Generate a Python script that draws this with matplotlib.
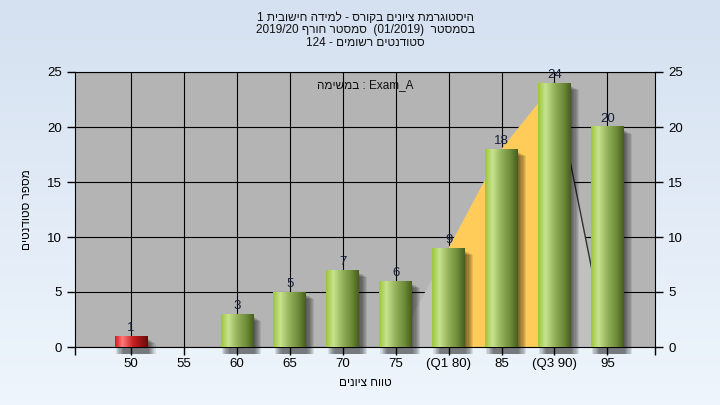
import matplotlib

matplotlib.use("Agg")
import matplotlib.pyplot as plt
import numpy as np
from matplotlib.colors import LinearSegmentedColormap
from matplotlib.patches import Polygon, Rectangle

# grade bins and number of students in each
categories = ["50", "55", "60", "65", "70", "75", "(Q1 80)", "85", "(Q3 90)", "95"]
counts = [1, 0, 3, 5, 7, 6, 9, 18, 24, 20]
fail_bins = ["50"]

# distribution curve drawn behind the bars (bin index, value)
curve_idx = [5, 6, 7, 8, 9]
curve_vals = [0, 9, 18, 24, 0]
q1_idx, q3_idx = 6, 8

y_ticks = [0, 5, 10, 15, 20, 25]


def rtl(s):
    # matplotlib has no bidi support, so Hebrew runs are written in visual order
    return s[::-1]


title_lines = [
    "1 " + rtl("היסטוגרמת ציונים בקורס - למידה חישובית"),
    "2019/20 " + rtl("סמסטר חורף") + "  (01/2019)  " + rtl("בסמסטר"),
    "124 - " + rtl("סטודנטים רשומים"),
]
task_label = rtl("במשימה") + " : Exam_A"
x_label = rtl("טווח ציונים")
y_label = rtl("מספר סטודנטים")

plt.rcParams["font.family"] = ["Liberation Sans", "DejaVu Sans"]

GREEN = LinearSegmentedColormap.from_list(
    "g", [(0, "#9cc63a"), (0.22, "#c9e38f"), (0.5, "#93b25a"), (0.8, "#6a8836"), (1, "#485d1f")])
RED = LinearSegmentedColormap.from_list(
    "r", [(0, "#d81a1a"), (0.22, "#ff7a7a"), (0.55, "#c82020"), (1, "#6a0808")])

fig = plt.figure(figsize=(7.2, 4.05), dpi=100)

# light blue gradient background
bg = fig.add_axes([0, 0, 1, 1], zorder=-10)
bg_cmap = LinearSegmentedColormap.from_list("bg", ["#eef5fc", "#d5e1f1"])
bg.imshow(np.linspace(0, 1, 100)[:, None], cmap=bg_cmap, aspect="auto",
          origin="lower", extent=[0, 1, 0, 1])
bg.axis("off")

ax = fig.add_axes([75 / 720, 1 - 347 / 405, 580 / 720, 275 / 405])
ax.set_facecolor("#b4b4b4")
ax.set_axisbelow(True)
ax.grid(True, color="black", lw=0.8)

x = np.arange(len(categories))
xmin, xmax = -1.06, 9.9
ymin, ymax = 0, 25

# background curve: light grey outside the quartiles, yellow between
curve_pts = list(zip(curve_idx, curve_vals))
ax.add_patch(Polygon(curve_pts, closed=True, fc="#c0c0c0", ec="none", zorder=1))
iq_pts = [(q1_idx, 0)] + [(i, v) for i, v in curve_pts if q1_idx <= i <= q3_idx] + [(q3_idx, 0)]
ax.add_patch(Polygon(iq_pts, closed=True, fc="#ffcc5a", ec="none", zorder=1.1))
ax.plot(curve_idx[-2:], curve_vals[-2:], color="#303030", lw=1, zorder=1.2)

w = 0.62
grad = np.linspace(0, 1, 64)[None, :]
for xi, cat, v in zip(x, categories, counts):
    if v == 0:
        continue
    x0 = xi - w / 2
    # soft shadow to the lower right
    for k in range(1, 8):
        ax.add_patch(Rectangle((x0 + 0.022 * k, -0.6), w, v + 0.6 - 0.25 - 0.05 * k,
                               fc="black", alpha=0.09, ec="none", zorder=2,
                               clip_on=False))
    cmap = RED if cat in fail_bins else GREEN
    ax.imshow(grad, cmap=cmap, extent=[x0, x0 + w, 0, v], aspect="auto",
              interpolation="bilinear", zorder=3)
    ax.annotate(str(v), (xi, v), xytext=(0, 1.5), textcoords="offset points",
                ha="center", va="bottom", fontsize=9.5, color="#15203a", zorder=4)

ax.set_xlim(xmin, xmax)
ax.set_ylim(ymin, ymax)
ax.set_xticks(x)
ax.set_xticklabels(categories)
ax.set_xticks([xmin, xmax], minor=True)
ax.set_yticks(y_ticks)
ax.tick_params(axis="both", which="both", direction="out", length=6, width=1,
               labelsize=9.5, colors="black")
ax.tick_params(axis="y", right=True, labelright=True)
ax.tick_params(axis="x", pad=2)
for s in ax.spines.values():
    s.set_color("black")

ax.text(0.5, 0.953, task_label, transform=ax.transAxes, ha="center", va="center",
        fontsize=8.5, color="#101010", zorder=5)

ax.set_xlabel(x_label, fontsize=8.5, labelpad=5)
ax.set_ylabel(y_label, fontsize=8.5)
ax.yaxis.set_label_coords(-42 / 580, 0.5)

for i, line in enumerate(title_lines):
    fig.text(365 / 720, 1 - (18 + 12.5 * i) / 405, line, ha="center", va="center",
             fontsize=8.5, color="#101010")

fig.savefig("out.png", dpi=100)
